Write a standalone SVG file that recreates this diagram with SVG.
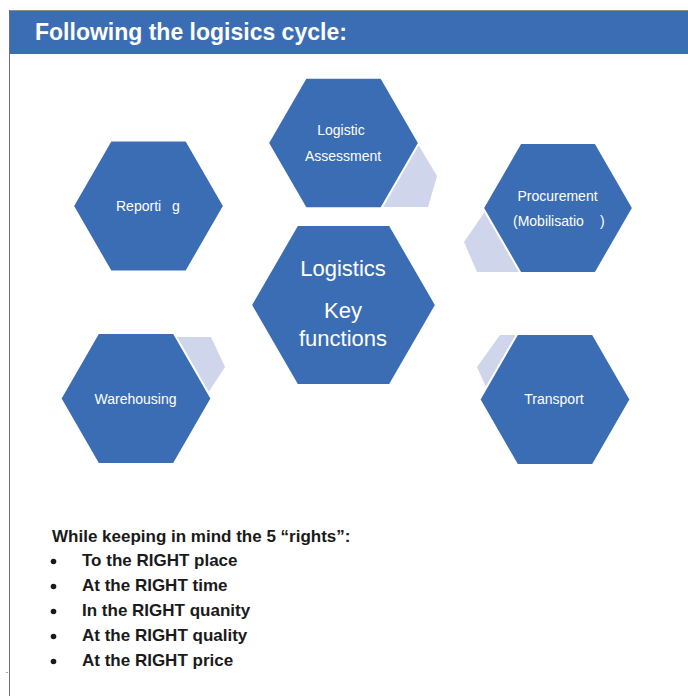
<svg xmlns="http://www.w3.org/2000/svg" width="688" height="696" viewBox="0 0 688 696">
<style>
.hex{fill:#3B6DB4;stroke:#ffffff;stroke-width:2;stroke-linejoin:miter}
.link{fill:#CFD5EA;stroke:none}
.lbl{font-family:"Liberation Sans",Arial,sans-serif;font-size:14px;fill:#ffffff;text-anchor:middle}
.big{font-family:"Liberation Sans",Arial,sans-serif;font-size:22px;fill:#ffffff;text-anchor:middle}
.body{font-family:"Liberation Sans",Arial,sans-serif;font-size:17px;font-weight:bold;fill:#1a1a1a}
</style>
<rect x="0" y="0" width="688" height="696" fill="#ffffff"/>
<g id="header">
<rect x="10" y="11" width="678" height="43" fill="#3B6DB4"/>
<line x1="9" y1="10.5" x2="688" y2="10.5" stroke="#8c8c8c" stroke-width="1"/>
<line x1="9.5" y1="10" x2="9.5" y2="696" stroke="#6f6f6f" stroke-width="1"/>
<text x="35" y="40" font-family="'Liberation Sans',Arial,sans-serif" font-size="23" font-weight="bold" fill="#ffffff">Following the logisics cycle:</text>
</g>
<g id="connectors">
<polygon class="link" points="410,146 419,146 437,176 428,207 375,207"/>
<polygon class="link" points="486,210 464,242 477,272 525,272 505,240"/>
<polygon class="link" points="170,337 211,337 225,367 206,396"/>
<polygon class="link" points="500,335 525,335 490,396 477,367"/>
</g>
<g id="node-assessment">
<polygon class="hex" points="268,143 305.75,77.7 381.25,77.7 419,143 381.25,208.3 305.75,208.3"/>
<text class="lbl" x="341" y="135">Logistic</text>
<text class="lbl" x="343" y="161">Assessment</text>
</g>
<g id="node-reporting">
<polygon class="hex" points="73,206 110.75,140.5 186.25,140.5 224,206 186.25,271.5 110.75,271.5"/>
<text class="lbl" x="116" y="211" style="text-anchor:start">Reporti<tspan x="172">g</tspan></text>
</g>
<g id="node-procurement">
<polygon class="hex" points="483,208 520.5,143 595.5,143 633,208 595.5,273 520.5,273"/>
<text class="lbl" x="557.5" y="201">Procurement</text>
<text class="lbl" x="513" y="226" style="text-anchor:start">(Mobilisatio<tspan x="600">)</tspan></text>
</g>
<g id="node-center">
<polygon class="hex" points="251,305 297.25,225 389.75,225 436,305 389.75,385 297.25,385"/>
<text class="big" x="343" y="276">Logistics</text>
<text class="big" x="343" y="318">Key</text>
<text class="big" x="343" y="346">functions</text>
</g>
<g id="node-warehousing">
<polygon class="hex" points="60.5,398.5 98.25,333 173.75,333 211.5,398.5 173.75,464 98.25,464"/>
<text class="lbl" x="135.5" y="403.5">Warehousing</text>
</g>
<g id="node-transport">
<polygon class="hex" points="479.5,399.5 517.25,334 592.75,334 630.5,399.5 592.75,465 517.25,465"/>
<text class="lbl" x="554" y="403.5">Transport</text>
</g>
<g id="rights">
<text class="body" x="52" y="541.5">While keeping in mind the 5 “rights”:</text>
<circle cx="53.5" cy="561.5" r="2.8" fill="#1a1a1a"/>
<text class="body" x="82" y="566">To the RIGHT place</text>
<circle cx="53.5" cy="586.5" r="2.8" fill="#1a1a1a"/>
<text class="body" x="82" y="591">At the RIGHT time</text>
<circle cx="53.5" cy="611.5" r="2.8" fill="#1a1a1a"/>
<text class="body" x="82" y="616">In the RIGHT quanity</text>
<circle cx="53.5" cy="636.5" r="2.8" fill="#1a1a1a"/>
<text class="body" x="82" y="641">At the RIGHT quality</text>
<circle cx="53.5" cy="661.5" r="2.8" fill="#1a1a1a"/>
<text class="body" x="82" y="666">At the RIGHT price</text>
<rect x="6.5" y="672" width="1" height="1" fill="#555555"/>
</g>
</svg>
